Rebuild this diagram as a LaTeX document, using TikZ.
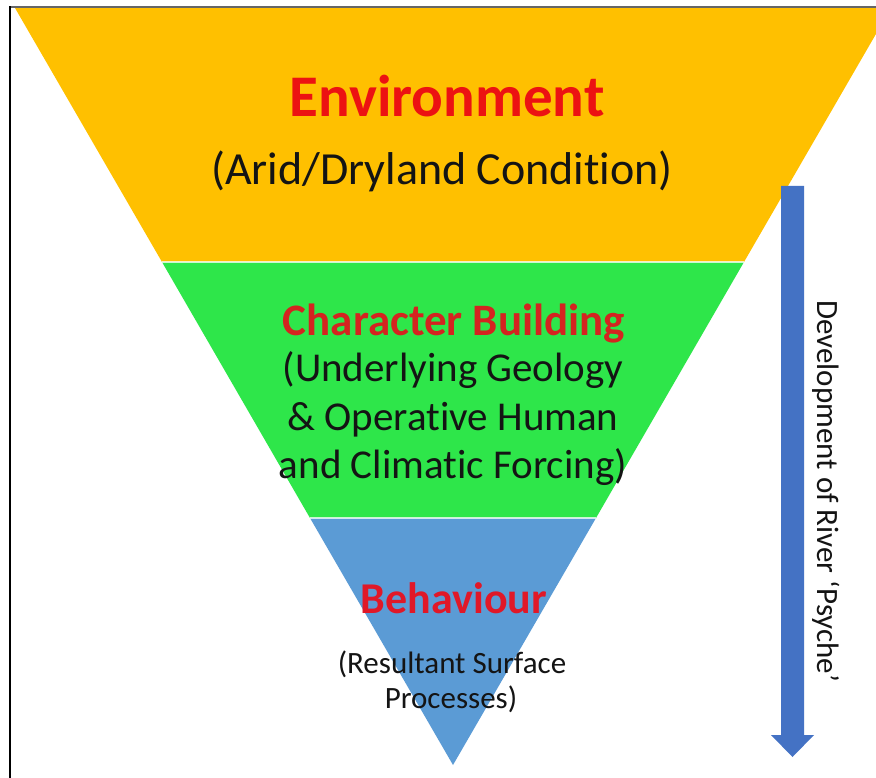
\documentclass[tikz,border=0pt]{standalone}
\usepackage{fontspec}
\setmainfont[Ligatures=NoCommon]{Carlito}
\begin{document}
\begin{tikzpicture}[x=1pt,y=-1pt,
  head/.style={font=\bfseries\fontsize{#1}{#1}\selectfont, anchor=base, inner sep=0pt},
  body/.style={font=\fontsize{#1}{#1}\selectfont, anchor=base, inner sep=0pt, text=black!92},
  sep/.style={draw=white, line width=1.3pt, opacity=0.75}]
\definecolor{gold}{HTML}{FFC000}
\definecolor{leaf}{HTML}{2EE64A}
\definecolor{sky}{HTML}{5B9BD5}
\definecolor{shaft}{HTML}{4472C4}
\definecolor{redA}{HTML}{EC1212}
\definecolor{redB}{HTML}{D42420}
\definecolor{redC}{HTML}{E01828}
\useasboundingbox (0,0) rectangle (876,778);
\fill[white] (0,0) rectangle (876,778);
\begin{scope}
\clip (0,0) rectangle (876,778);
% inverted pyramid, three bands
\coordinate (tl) at (15,8);
\coordinate (tr) at (891,8);
\coordinate (apex) at (453,765);
\coordinate (l1) at (162,262);
\coordinate (r1) at (744,262);
\coordinate (l2) at (310,518);
\coordinate (r2) at (596,518);
\fill[gold] (tl) -- (tr) -- (r1) -- (l1) -- cycle;
\fill[leaf] (l1) -- (r1) -- (r2) -- (l2) -- cycle;
\fill[sky] (l2) -- (r2) -- (apex) -- cycle;
\draw[sep] (l1) -- (r1);
\draw[sep] (l2) -- (r2);
\end{scope}
% frame lines
\draw[black!60, line width=1.6pt] (10,7) -- (876,7);
\draw[black, line width=1.6pt] (10,6.5) -- (10,778);

% top band
\node[head=59, text=redA] (env) at (447,117) {Environment};
\node[body=46] (arid) at (442,185) {(Arid/Dryland Condition)};
% middle band
\node[head=45, text=redB] (chr) at (454,335) {Character Building};
\node[body=41] (chr1) at (453,381) {(Underlying Geology};
\node[body=41] (chr2) at (453,430) {\& Operative Human};
\node[body=41] (chr3) at (453,478) {and Climatic Forcing)};
% bottom band
\node[head=44, text=redC] (beh) at (454,613) {Behaviour};
\node[body=31] (beh1) at (452,673) {(Resultant Surface};
\node[body=31] (beh2) at (451,708) {Processes)};

% development arrow
\coordinate (atop) at (792.5,186);
\coordinate (atip) at (792.5,757);
\fill[shaft] (781,186) -- (804,186) -- (804,735) -- (814,735) -- (atip)
  -- (771,735) -- (781,735) -- cycle;
\node[font=\fontsize{31}{31}\selectfont, rotate=-90, text=black!92] (dev)
  at (826,491) {Development of River ‘Psyche’};
\end{tikzpicture}
\end{document}
